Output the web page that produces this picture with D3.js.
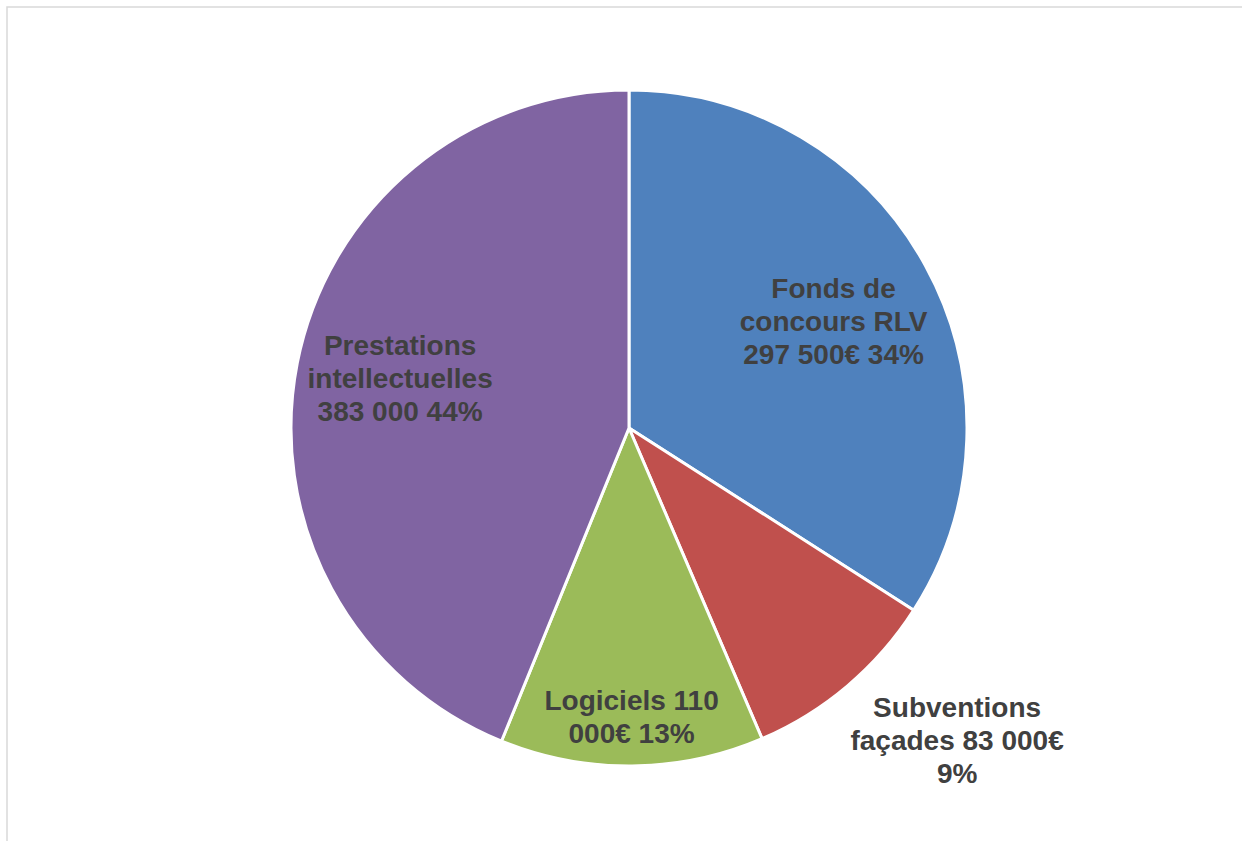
<!DOCTYPE html>
<html>
<head>
<meta charset="utf-8">
<script src="https://cdn.jsdelivr.net/npm/d3@7"></script>
<style>
html,body{margin:0;padding:0;background:#fff;}
svg{display:block;}
</style>
</head>
<body>
<svg id="chart" width="1242" height="841"></svg>
<script>
const categories = ["Fonds de concours RLV", "Subventions façades", "Logiciels", "Prestations intellectuelles"];
const values = [297500, 83000, 110000, 383000];
const colors = ["#4F81BD", "#C0504D", "#9BBB59", "#8064A2"];
const labelLines = [
  ["Fonds de", "concours RLV", "297 500€ 34%"],
  ["Subventions", "façades 83 000€", "9%"],
  ["Logiciels 110", "000€ 13%"],
  ["Prestations", "intellectuelles", "383 000 44%"]
];
// label placement (radius factor, extra dx, extra dy)
const labelPlace = [
  {rf: 0.69, dx: 0, dy: 5},
  {rf: 1.30, dx: 44, dy: -23},
  {rf: 0.855, dx: 0, dy: 0},
  {rf: 0.69, dx: 0, dy: -5}
];

const svg = d3.select("#chart");
svg.append("rect").attr("x", 7).attr("y", 7).attr("width", 1400).attr("height", 1000)
  .attr("fill", "none").attr("stroke", "#d9d9d9").attr("stroke-width", 1.5);

const cx = 629, cy = 428, R = 338;
const g = svg.append("g").attr("transform", `translate(${cx},${cy})`);

const data = categories.map((c, i) => ({name: c, value: values[i], i}));
const pie = d3.pie().value(d => d.value).sort(null);
const arcs = pie(data);
const arc = d3.arc().innerRadius(0).outerRadius(R);

g.selectAll("path.slice").data(arcs).enter().append("path")
  .attr("class", "slice")
  .attr("d", arc)
  .attr("fill", d => colors[d.data.i])
  .attr("stroke", "#fff").attr("stroke-width", 3).attr("stroke-linejoin", "round");

const fs = 28, lh = 33;
arcs.forEach(d => {
  const p = labelPlace[d.data.i];
  const la = d3.arc().innerRadius(R * p.rf).outerRadius(R * p.rf);
  const [x, y] = la.centroid(d);
  const lines = labelLines[d.data.i];
  const t = g.append("text")
    .attr("x", x + p.dx).attr("y", y + p.dy)
    .attr("text-anchor", "middle")
    .attr("font-family", "Liberation Sans, Arial, sans-serif")
    .attr("font-weight", "bold").attr("font-size", fs)
    .attr("fill", "#404040");
  const n = lines.length;
  lines.forEach((ln, k) => {
    t.append("tspan").attr("x", x + p.dx)
      .attr("y", y + p.dy + (k - (n - 1) / 2) * lh)
      .attr("dy", "0.35em")
      .text(ln);
  });
});
</script>
</body>
</html>
